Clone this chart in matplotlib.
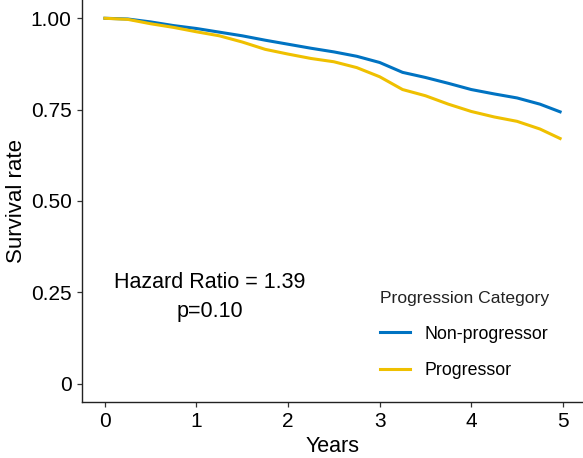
import numpy as np
import matplotlib.pyplot as plt

plt.rcParams['font.family'] = ['Liberation Sans', 'DejaVu Sans']

# Survival curves (years, survival rate)
years = [0, 0.25, 0.5, 0.75, 1.0, 1.25, 1.5, 1.75, 2.0, 2.25, 2.5,
         2.75, 3.0, 3.25, 3.5, 3.75, 4.0, 4.25, 4.5, 4.75, 4.97]
non_progressor = [1.0, 0.998, 0.99, 0.98, 0.972, 0.962, 0.952, 0.94, 0.929, 0.918, 0.908,
                  0.896, 0.879, 0.852, 0.838, 0.822, 0.805, 0.793, 0.782, 0.765, 0.744]
progressor = [1.0, 0.997, 0.985, 0.975, 0.963, 0.952, 0.935, 0.915, 0.902, 0.89, 0.881,
              0.865, 0.84, 0.805, 0.788, 0.765, 0.745, 0.73, 0.718, 0.697, 0.671]

x_ticks = [0, 1, 2, 3, 4, 5]
y_ticks = [0, 0.25, 0.5, 0.75, 1.0]
y_labels = ['0', '0.25', '0.50', '0.75', '1.00']

W, H = 583, 458
fig = plt.figure(figsize=(W / 100, H / 100), dpi=100)
ax = fig.add_axes([82 / W, 1 - 402 / H, 1 - 82 / W, 402 / H])

ax.plot(years, non_progressor, color='#0073C2', linewidth=2.2, label='Non-progressor')
ax.plot(years, progressor, color='#EFC000', linewidth=2.2, label='Progressor')

ax.set_xlim(-0.25, 5.22)
ax.set_ylim(-0.05, 1.05)
ax.set_xticks(x_ticks)
ax.set_yticks(y_ticks)
ax.set_yticklabels(y_labels)
ax.tick_params(labelsize=15, colors='#333333', length=3.5, width=0.9,
               labelcolor='black', pad=4)

for side in ['top', 'right']:
    ax.spines[side].set_visible(False)
for side in ['left', 'bottom']:
    ax.spines[side].set_linewidth(1.0)
    ax.spines[side].set_color('#222222')

ax.set_xlabel('Years', fontsize=15.5, labelpad=3)
ax.set_ylabel('Survival rate', fontsize=16, labelpad=3)

fig.text(210 / W, 1 - 283 / H, 'Hazard Ratio = 1.39', fontsize=15.5, ha='center', va='center')
fig.text(210 / W, 1 - 311 / H, 'p=0.10', fontsize=15.5, ha='center', va='center')

leg = ax.legend(loc='upper left', bbox_to_anchor=(380 / W, 1 - 291 / H),
                bbox_transform=fig.transFigure,
                frameon=False, title='Progression Category', fontsize=12.8,
                title_fontsize=12.6, alignment='left', handlelength=1.7,
                handletextpad=0.8, labelspacing=1.1, borderaxespad=0, borderpad=0)
leg.get_title().set_color('#222222')
fig.savefig('out.png', dpi=100)
